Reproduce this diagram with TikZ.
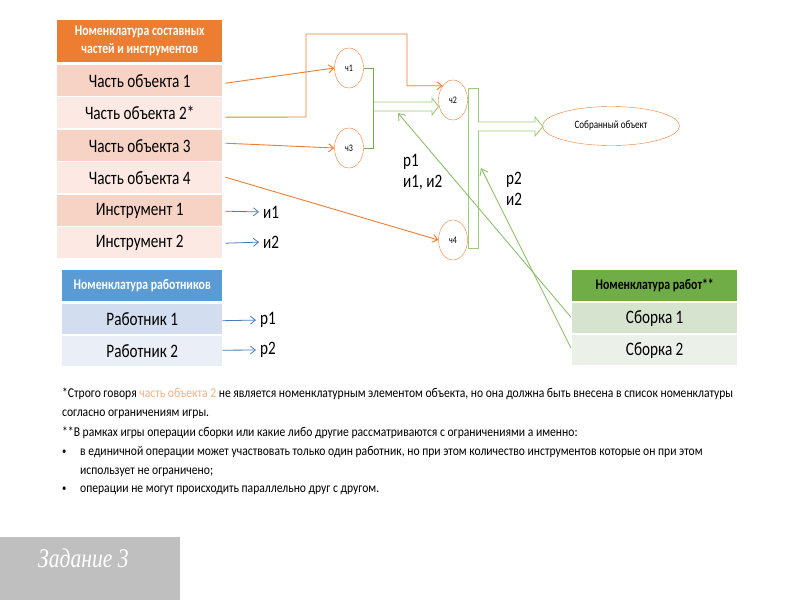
\documentclass[tikz,border=0pt]{standalone}
\usepackage{fontspec}
\setmainfont{Carlito}[FakeStretch=0.8]
\newfontfamily\notefont{Carlito}[FakeStretch=0.86]
\newfontfamily\titlefont{Liberation Serif}[FakeStretch=0.8]
\usetikzlibrary{arrows.meta,shapes.geometric,calc}
\definecolor{orhead}{HTML}{ED7D31}
\definecolor{orrowA}{HTML}{F7D3C5}
\definecolor{orrowB}{HTML}{FCE9E3}
\definecolor{blhead}{HTML}{5B9BD5}
\definecolor{blrowA}{HTML}{D2DEEF}
\definecolor{blrowB}{HTML}{EAEFF7}
\definecolor{grhead}{HTML}{70AD47}
\definecolor{grrowA}{HTML}{D5E3CF}
\definecolor{grrowB}{HTML}{EBF1E9}
\definecolor{orline}{HTML}{ED7D31}
\definecolor{bar1c}{HTML}{70AD47}
\definecolor{bar2c}{HTML}{9CCB7C}
\definecolor{thingreen}{HTML}{8FBF6E}
\definecolor{bluearr}{HTML}{4A7EBB}
\definecolor{notecol}{HTML}{F4B183}
\definecolor{graybox}{HTML}{BFBFBF}
\begin{document}
\begin{tikzpicture}[x=1pt,y=-1pt,
  cell/.style={minimum width=165pt, minimum height=31pt, inner sep=0pt, anchor=north west,
    font=\fontsize{19}{19}\selectfont},
  headcell/.style={cell, font=\fontsize{14.7}{18}\selectfont\bfseries, align=center},
  part/.style={ellipse, draw=orline, fill=white, minimum width=29pt, minimum height=40pt, inner sep=0pt,
    font=\fontsize{10}{10}\selectfont},
  orarrow/.style={draw=orline, line width=0.9pt, -{Straight Barb[length=5pt,width=8pt]}},
  bluearrow/.style={draw=bluearr, line width=0.8pt, shorten >=4pt, -{Straight Barb[length=5pt,width=8pt]}},
  greenarrow/.style={draw=thingreen, line width=0.9pt, -{Straight Barb[length=6pt,width=9pt]}},
  lbl/.style={font=\fontsize{19}{21}\selectfont, inner sep=0pt, align=left},
  note/.style={font=\notefont\fontsize{13.5}{15}\selectfont, inner sep=0pt, anchor=base west},
  bullet/.style={font=\notefont\fontsize{10}{12}\selectfont, inner sep=0pt, anchor=base west},
]
\useasboundingbox (0,0) rectangle (800,600);
\fill[white] (0,0) rectangle (800,600);

% orange table
\node[headcell, fill=orhead, text=white, minimum height=42pt] (oh) at (57,20) {Номенклатура составных\\частей и инструментов};
\node[cell, fill=orrowA] (o1) at (57,65) {Часть объекта 1};
\node[cell, fill=orrowB] (o2) at (57,97) {Часть объекта 2*};
\node[cell, fill=orrowA] (o3) at (57,130) {Часть объекта 3};
\node[cell, fill=orrowB] (o4) at (57,162) {Часть объекта 4};
\node[cell, fill=orrowA] (o5) at (57,195) {Инструмент 1};
\node[cell, fill=orrowB] (o6) at (57,227) {Инструмент 2};

% blue table
\node[headcell, fill=blhead, text=white, minimum width=160pt] (bh) at (62,270) {Номенклатура работников};
\node[cell, fill=blrowA, minimum width=160pt, minimum height=30pt] (b1) at (62,304) {Работник 1};
\node[cell, fill=blrowB, minimum width=160pt, minimum height=30pt] (b2) at (62,336) {Работник 2};

% green table
\node[headcell, fill=grhead, text=black, minimum height=31pt] (gh) at (572,270) {Номенклатура работ**};
\node[cell, fill=grrowA, minimum height=30pt] (g1) at (572,303) {Сборка 1};
\node[cell, fill=grrowB, minimum height=30pt] (g2) at (572,335) {Сборка 2};

% parts
\node[part] (c1) at (349,68) {ч1};
\node[part] (c3) at (349,148) {ч3};
\node[part] (c2) at (453,100) {ч2};
\node[part] (c4) at (453,240) {ч4};
\node[ellipse, draw=orline, minimum width=137pt, minimum height=39pt, inner sep=0pt,
  font=\fontsize{11.3}{11}\selectfont] (res) at (611,126) {Собранный объект};

% bars
\draw[draw=bar1c, line width=0.9pt] (c1.east) -- ++(10,0) |- (c3.east);
\node[draw=bar2c, line width=0.9pt, minimum width=10pt, minimum height=160pt, inner sep=0pt, anchor=north west] (bar2) at (468,88) {};

% block arrows
\coordinate (ba1) at (374,106.5);
\coordinate (ba2) at (478,126.5);
\draw[draw=bar2c, fill=white, line width=0.9pt]
  ($(ba1)+(0,-4.5)$) -- ++(58,0) -- ++(0,-4) -- ($(ba1)+(64.5,0)$) -- ($(ba1)+(58,8.5)$) -- ++(0,-4) -- ($(ba1)+(0,4.5)$);
\draw[draw=bar2c, fill=white, line width=0.9pt]
  ($(ba2)+(0,-4.5)$) -- ++(57,0) -- ++(0,-5) -- ($(ba2)+(65,0)$) -- ($(ba2)+(57,9.5)$) -- ++(0,-5) -- ($(ba2)+(0,4.5)$);

% orange connectors
\draw[orarrow] ($(o1.east)+(3,2.5)$) -- (c1.west);
\draw[orarrow] ($(o2.east)+(3,4.5)$) -- (306,117) -- (306,34) -- (407,34) |- (c2.north west);
\draw[orarrow] ($(o3.east)+(3,-2.5)$) -- (c3.west);
\draw[orarrow] ($(o4.east)+(3,-0.5)$) -- (c4.west);

% labels
\node[lbl, anchor=west] (li1) at (263,212) {и1};
\node[lbl, anchor=west] (li2) at (263,242) {и2};
\node[lbl, anchor=west] (lp1) at (260,320) {р1};
\node[lbl, anchor=west] (lp2) at (260,350) {р2};
\draw[bluearrow] ($(o5.east)+(3,0.5)$) -- (li1.west);
\draw[bluearrow] ($(o6.east)+(3,0.5)$) -- (li2.west);
\draw[bluearrow] ($(b1.east)+(0,1.5)$) -- (lp1.west);
\draw[bluearrow] ($(b2.east)+(0,-1)$) -- (lp2.west);

\node[lbl, anchor=north west] (op1) at (403,154) {р1\\и1, и2};
\node[lbl, anchor=north west] (op2) at (506,172) {р2\\и2};

% green thin arrows
\coordinate (t1) at (398,113);
\coordinate (t2) at (481,168);
\draw[greenarrow] ($(g1.west)+(-1,-1)$) -- (t1);
\draw[greenarrow] ($(g2.west)+(-1,-2)$) -- (t2);

% notes
\node[note] (n1) at (62,397) {*Строго говоря {\color{notecol}часть объекта 2} не является номенклатурным элементом объекта, но она должна быть внесена в список номенклатуры};
\node[note] (n2) at (62,416) {согласно ограничениям игры.};
\node[note] (n3) at (62,436) {**В рамках игры операции сборки или какие либо другие рассматриваются с ограничениями а именно:};
\node[bullet] (n4b) at (62,454) {•};
\node[note] (n4) at (80,455) {в единичной операции может участвовать только один работник, но при этом количество инструментов которые он при этом};
\node[note] (n5) at (80,474) {использует не ограничено;};
\node[bullet] (n6b) at (62,491) {•};
\node[note] (n6) at (80,492) {операции не могут происходить параллельно друг с другом.};

% task box
\fill[graybox] (0,537) rectangle (180,600);
\node[font=\titlefont\itshape\fontsize{27}{27}\selectfont, text=white, anchor=west, inner sep=0pt] (task) at (38,558) {Задание 3};
\end{tikzpicture}
\end{document}
